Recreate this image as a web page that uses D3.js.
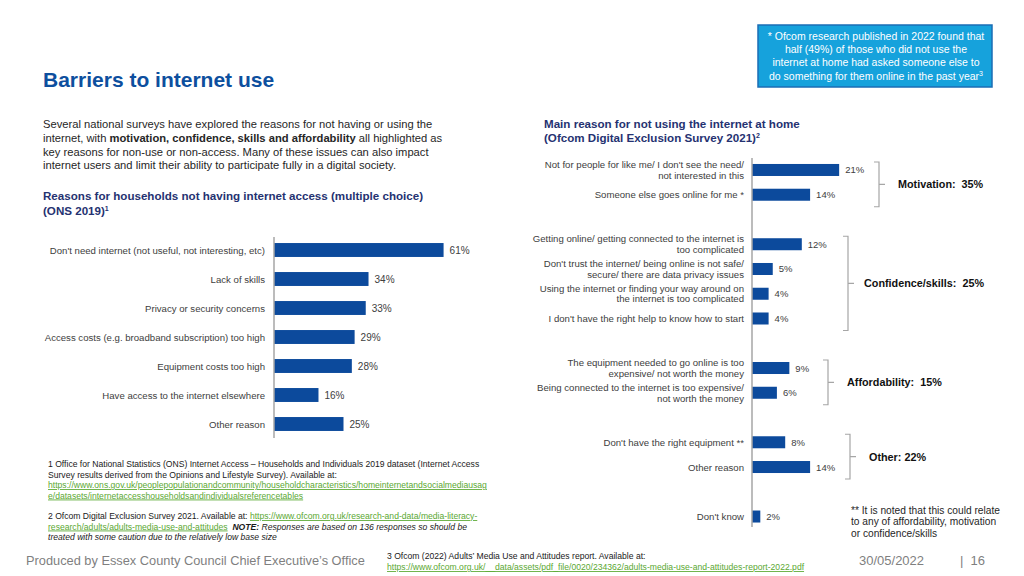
<!DOCTYPE html>
<html>
<head>
<meta charset="utf-8">
<script src="https://cdn.jsdelivr.net/npm/d3@7"></script>
<style>
  body { margin: 0; background: #fff; }
  svg { font-family: "Liberation Sans", Arial, sans-serif; display: block; }
  .lbl { fill: #404040; }
  .link { fill: #5aa832; text-decoration: underline; }
</style>
</head>
<body>
<div id="chart"></div>
<script>

// ONS 2019 - reasons for households not having internet access
var onsReasons = [
    "Don't need internet (not useful, not interesting, etc)",
    "Lack of skills",
    "Privacy or security concerns",
    "Access costs (e.g. broadband subscription) too high",
    "Equipment costs too high",
    "Have access to the internet elsewhere",
    "Other reason"
];
var onsValues = [61, 34, 33, 29, 28, 16, 25];

// Ofcom 2021 - main reason for not using internet at home (null = gap row)
var ofcomReasons = [
    ["Not for people for like me/ I don't see the need/", "not interested in this"],
    ["Someone else goes online for me *"],
    null,
    ["Getting online/ getting connected to the internet is", "too complicated"],
    ["Don't trust the internet/ being online is not safe/", "secure/ there are data privacy issues"],
    ["Using the internet or finding your way around on", "the internet is too complicated"],
    ["I don't have the right help to know how to start"],
    null,
    ["The equipment needed to go online is too", "expensive/ not worth the money"],
    ["Being connected to the internet is too expensive/", "not worth the money"],
    null,
    ["Don't have the right equipment **"],
    ["Other reason"],
    null,
    ["Don't know"]
];
var ofcomValues = [21, 14, null, 12, 5, 4, 4, null, 9, 6, null, 8, 14, null, 2];

// bracket groups over the Ofcom rows
var groupLabels = ["Motivation:  35%", "Confidence/skills:  25%", "Affordability:  15%", "Other: 22%"];
var groupRows = [[0, 1], [3, 6], [8, 9], [11, 12]];

var barColor = "#0c4a9c";

function setChart(){

    var width = 1024,
        height = 576;

    var svg = d3.select('#chart')
        .append('svg')
        .attr('width', width)
        .attr('height', height);

    //Title
    svg.append('text')
        .attr('x', 43).attr('y', 87)
        .attr('font-size', 21).attr('font-weight', 'bold')
        .attr('fill', '#0d4f9e')
        .text('Barriers to internet use');

    //Intro paragraph
    var para = svg.append('text')
        .attr('font-size', 11.2).attr('fill', '#262626');
    para.append('tspan').attr('x', 43).attr('y', 128)
        .text('Several national surveys have explored the reasons for not having or using the');
    var l2 = para.append('tspan').attr('x', 43).attr('y', 142);
    l2.append('tspan').text('internet, with ');
    l2.append('tspan').attr('font-weight', 'bold').text('motivation, confidence, skills and affordability');
    l2.append('tspan').text(' all highlighted as');
    para.append('tspan').attr('x', 43).attr('y', 155.5)
        .text('key reasons for non-use or non-access. Many of these issues can also impact');
    para.append('tspan').attr('x', 43).attr('y', 169)
        .text('internet users and limit their ability to participate fully in a digital society.');

    //Subtitles
    var sub1 = svg.append('text')
        .attr('font-size', 11.6).attr('font-weight', 'bold').attr('fill', '#253271');
    sub1.append('tspan').attr('x', 43).attr('y', 200)
        .text('Reasons for households not having internet access (multiple choice)');
    var s1b = sub1.append('tspan').attr('x', 43).attr('y', 215);
    s1b.append('tspan').text('(ONS 2019)');
    s1b.append('tspan').attr('font-size', 7).attr('dy', -4).text('1');

    var sub2 = svg.append('text')
        .attr('font-size', 11.6).attr('font-weight', 'bold').attr('fill', '#253271');
    sub2.append('tspan').attr('x', 544).attr('y', 128)
        .text('Main reason for not using the internet at home');
    var s2b = sub2.append('tspan').attr('x', 544).attr('y', 142);
    s2b.append('tspan').text('(Ofcom Digital Exclusion Survey 2021)');
    s2b.append('tspan').attr('font-size', 7).attr('dy', -4).text('2');

    //Info box
    svg.append('rect')
        .attr('x', 758).attr('y', 25).attr('width', 234).attr('height', 62)
        .attr('fill', '#16a2dc').attr('stroke', '#1b6db5').attr('stroke-width', 1.5);
    var box = svg.append('text')
        .attr('font-size', 10.5).attr('fill', '#fff').attr('text-anchor', 'middle');
    var boxLines = ['* Ofcom research published in 2022 found that',
                    'half (49%) of those who did not use the',
                    'internet at home had asked someone else to'];
    boxLines.forEach(function(t, i){
        box.append('tspan').attr('x', 876).attr('y', 40 + i * 13.2).text(t);
    });
    var bl = box.append('tspan').attr('x', 876).attr('y', 40 + 3 * 13.2);
    bl.append('tspan').text('do something for them online in the past year');
    bl.append('tspan').attr('font-size', 7).attr('dy', -4).text('3');

    // ---------- Left chart (ONS) ----------
    var xL = d3.scaleLinear().domain([0, 100]).range([274, 552]);
    var yL = d3.scaleBand()
        .domain(onsReasons)
        .range([235.5, 438.5])
        .paddingInner(0.52)
        .paddingOuter(0.26);

    var left = svg.append('g');

    left.selectAll('.barL')
        .data(onsValues)
        .enter()
        .append('rect')
        .attr('class', 'barL')
        .attr('x', xL(0))
        .attr('y', function(d, i){ return yL(onsReasons[i]); })
        .attr('width', function(d){ return xL(d) - xL(0); })
        .attr('height', yL.bandwidth())
        .attr('fill', barColor);

    left.selectAll('.valL')
        .data(onsValues)
        .enter()
        .append('text')
        .attr('class', 'lbl')
        .attr('x', function(d){ return xL(d) + 6; })
        .attr('y', function(d, i){ return yL(onsReasons[i]) + yL.bandwidth() / 2 + 3.5; })
        .attr('font-size', 10)
        .text(function(d){ return d + '%'; });

    left.selectAll('.catL')
        .data(onsReasons)
        .enter()
        .append('text')
        .attr('class', 'lbl')
        .attr('x', 265)
        .attr('y', function(d){ return yL(d) + yL.bandwidth() / 2 + 3.5; })
        .attr('text-anchor', 'end')
        .attr('font-size', 9.6)
        .text(function(d){ return d; });

    left.append('line')
        .attr('x1', xL(0)).attr('x2', xL(0))
        .attr('y1', 237).attr('y2', 438)
        .attr('stroke', '#a6a6a6').attr('stroke-width', 1.5);

    // ---------- Right chart (Ofcom) ----------
    var xR = d3.scaleLinear().domain([0, 100]).range([752, 1167]);
    var yR = d3.scaleBand()
        .domain(d3.range(ofcomValues.length))
        .range([157.6, 528.9])
        .paddingInner(0.515)
        .paddingOuter(0.2575);

    var rows = ofcomValues.map(function(v, i){ return {v: v, i: i, lab: ofcomReasons[i]}; })
        .filter(function(d){ return d.v !== null; });

    var right = svg.append('g');

    right.selectAll('.barR')
        .data(rows)
        .enter()
        .append('rect')
        .attr('class', 'barR')
        .attr('x', xR(0))
        .attr('y', function(d){ return yR(d.i); })
        .attr('width', function(d){ return xR(d.v) - xR(0); })
        .attr('height', yR.bandwidth())
        .attr('fill', barColor);

    right.selectAll('.valR')
        .data(rows)
        .enter()
        .append('text')
        .attr('class', 'lbl')
        .attr('x', function(d){ return xR(d.v) + 6; })
        .attr('y', function(d){ return yR(d.i) + yR.bandwidth() / 2 + 3.5; })
        .attr('font-size', 9.5)
        .text(function(d){ return d.v + '%'; });

    var cats = right.selectAll('.catR')
        .data(rows)
        .enter()
        .append('text')
        .attr('class', 'lbl')
        .attr('text-anchor', 'end')
        .attr('font-size', 9.6);
    cats.each(function(d){
        var c = yR(d.i) + yR.bandwidth() / 2 + 3.5,
            n = d.lab.length;
        d3.select(this).selectAll('tspan')
            .data(d.lab)
            .enter()
            .append('tspan')
            .attr('x', 744)
            .attr('y', function(t, k){ return c + (k - (n - 1) / 2) * 10.5; })
            .text(function(t){ return t; });
    });

    right.append('line')
        .attr('x1', xR(0)).attr('x2', xR(0))
        .attr('y1', 158).attr('y2', 527)
        .attr('stroke', '#a6a6a6').attr('stroke-width', 1.5);

    //Brackets with group totals
    var bracketX = [879, 848, 828, 850];
    groupRows.forEach(function(g, k){
        var top = yR(g[0]) + yR.bandwidth() / 2 - 8,
            bot = yR(g[1]) + yR.bandwidth() / 2 + 12,
            mid = (top + bot) / 2,
            bx = bracketX[k];
        right.append('path')
            .attr('d', 'M' + (bx - 5) + ',' + top + 'H' + bx + 'V' + bot + 'H' + (bx - 5)
                + 'M' + bx + ',' + mid + 'H' + (bx + 6))
            .attr('fill', 'none')
            .attr('stroke', '#a6a6a6')
            .attr('stroke-width', 1.2);
        right.append('text')
            .attr('x', bx + (k === 1 ? 16 : 19))
            .attr('y', mid + 4)
            .attr('font-size', 10.8)
            .attr('font-weight', 'bold')
            .attr('fill', '#111')
            .attr('xml:space', 'preserve')
            .style('white-space', 'pre')
            .text(groupLabels[k]);
    });

    //Equipment note
    var note = svg.append('text').attr('font-size', 10.2).attr('fill', '#262626');
    ['** It is noted that this could relate',
     'to any of affordability, motivation',
     'or confidence/skills'].forEach(function(t, i){
        note.append('tspan').attr('x', 851).attr('y', 513.5 + i * 11.7).text(t);
    });

    // ---------- Footnotes ----------
    var f1 = svg.append('text').attr('font-size', 8.6).attr('fill', '#1a1a1a');
    f1.append('tspan').attr('x', 48).attr('y', 467)
        .text('1 Office for National Statistics (ONS) Internet Access \u2013 Households and Individuals 2019 dataset (Internet Access');
    f1.append('tspan').attr('x', 48).attr('y', 477.5)
        .text('Survey results derived from the Opinions and Lifestyle Survey). Available at:');
    f1.append('tspan').attr('class', 'link').attr('x', 48).attr('y', 488)
        .text('https://www.ons.gov.uk/peoplepopulationandcommunity/householdcharacteristics/homeinternetandsocialmediausag');
    f1.append('tspan').attr('class', 'link').attr('x', 48).attr('y', 498.5)
        .text('e/datasets/internetaccesshouseholdsandindividualsreferencetables');

    var f2 = svg.append('text').attr('font-size', 8.6).attr('fill', '#1a1a1a');
    var f2a = f2.append('tspan').attr('x', 48).attr('y', 519);
    f2a.append('tspan').text('2 Ofcom Digital Exclusion Survey 2021. Available at: ');
    f2a.append('tspan').attr('class', 'link').text('https://www.ofcom.org.uk/research-and-data/media-literacy-');
    var f2b = f2.append('tspan').attr('x', 48).attr('y', 529.5);
    f2b.append('tspan').attr('class', 'link').text('research/adults/adults-media-use-and-attitudes');
    f2b.append('tspan').attr('font-weight', 'bold').attr('font-style', 'italic').text('\u00a0\u00a0NOTE:');
    f2b.append('tspan').attr('font-style', 'italic').text(' Responses are based on 136 responses so should be');
    f2.append('tspan').attr('x', 48).attr('y', 540).attr('font-style', 'italic')
        .text('treated with some caution due to the relatively low base size');

    var f3 = svg.append('text').attr('font-size', 8.6).attr('fill', '#1a1a1a');
    f3.append('tspan').attr('x', 387).attr('y', 559)
        .text('3 Ofcom (2022) Adults\u2019 Media Use and Attitudes report. Available at:');
    f3.append('tspan').attr('class', 'link').attr('x', 387).attr('y', 570)
        .text('https://www.ofcom.org.uk/__data/assets/pdf_file/0020/234362/adults-media-use-and-attitudes-report-2022.pdf');

    //Page footer
    svg.append('text')
        .attr('x', 26).attr('y', 565)
        .attr('font-size', 12.8).attr('fill', '#7f7f7f')
        .text('Produced by Essex County Council Chief Executive\u2019s Office');
    svg.append('text')
        .attr('x', 859).attr('y', 564.5)
        .attr('font-size', 13).attr('fill', '#7f7f7f')
        .text('30/05/2022');
    svg.append('text')
        .attr('x', 960).attr('y', 564.5)
        .attr('font-size', 13).attr('fill', '#7f7f7f')
        .attr('xml:space', 'preserve')
        .style('white-space', 'pre')
        .text('|  16');
}

window.onload = setChart();
</script>
</body>
</html>
